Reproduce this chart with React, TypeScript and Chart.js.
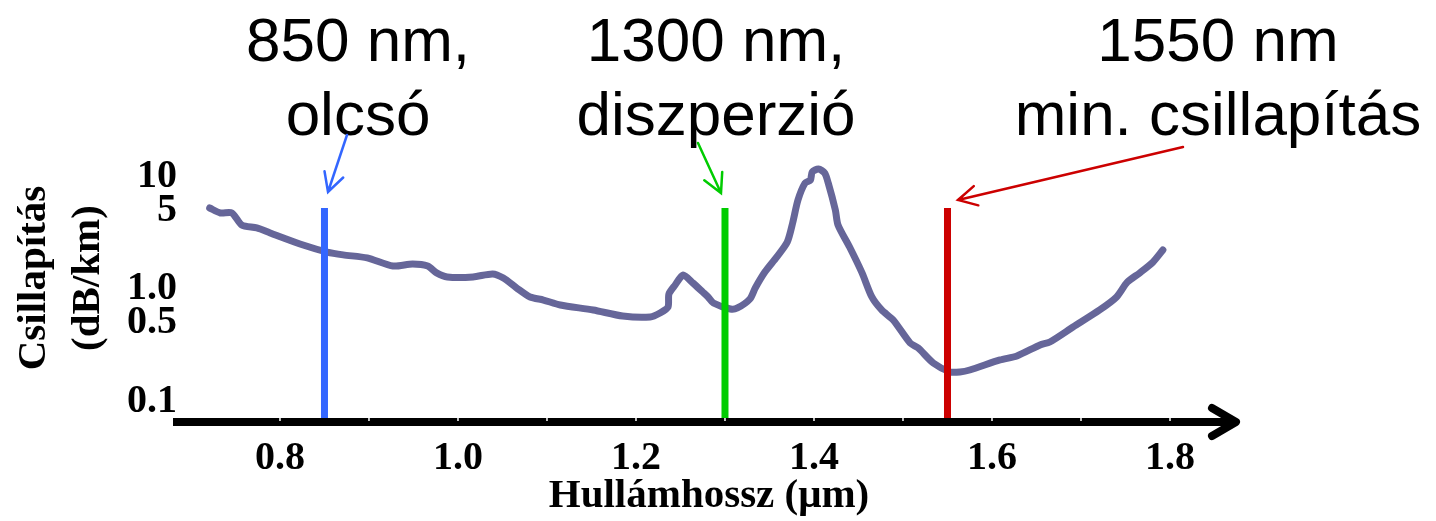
import { useEffect, useRef } from 'react';
import { Chart, registerables } from 'chart.js';

Chart.register(...registerables);

// ---- data ----
const wavelength = [
  0.721, 0.733, 0.746, 0.757, 0.774, 0.789, 0.826, 0.853, 0.871, 0.898,
  0.927, 0.949, 0.966, 0.976, 0.988, 1.017, 1.039, 1.051, 1.066, 1.081,
  1.096, 1.115, 1.152, 1.185, 1.216, 1.227, 1.236, 1.237, 1.244, 1.253,
  1.264, 1.275, 1.281, 1.287, 1.306, 1.314, 1.328, 1.334, 1.345, 1.358,
  1.370, 1.376, 1.382, 1.390, 1.396, 1.398, 1.405, 1.412, 1.416, 1.424,
  1.427, 1.440, 1.454, 1.465, 1.476, 1.489, 1.508, 1.517, 1.534, 1.553,
  1.564, 1.575, 1.609, 1.628, 1.654, 1.665, 1.691, 1.721, 1.740, 1.752,
  1.766, 1.781, 1.792,
];
const attenuation = [
  5.25, 4.74, 4.74, 3.71, 3.49, 3.15, 2.46, 2.13, 2.01, 1.89,
  1.60, 1.67, 1.60, 1.39, 1.28, 1.28, 1.36, 1.25, 1.02, 0.849,
  0.798, 0.72, 0.651, 0.575, 0.564, 0.612, 0.692, 0.903, 1.085, 1.33,
  1.13, 0.94, 0.849, 0.751, 0.664, 0.678, 0.815, 1.02, 1.42, 1.92,
  2.62, 3.86, 6.18, 8.75, 9.31, 10.96, 11.66, 10.74, 8.75, 5.04,
  3.71, 2.36, 1.39, 0.849, 0.651, 0.530, 0.331, 0.299, 0.220, 0.183,
  0.183, 0.1905, 0.234, 0.254, 0.318, 0.338, 0.459, 0.651, 0.849, 1.15,
  1.39, 1.74, 2.22,
];

const markerWavelengths = [0.85, 1.3, 1.55];
const markerTop = 5.25;
const markerColors = ['rgb(51,102,255)', 'rgb(0,204,0)', 'rgb(204,0,0)'];

const annotationTexts = [
  ['850 nm,', 'olcsó'],
  ['1300 nm,', 'diszperzió'],
  ['1550 nm', 'min. csillapítás'],
];

const xTickValues = [0.8, 0.9, 1.0, 1.1, 1.2, 1.3, 1.4, 1.5, 1.6, 1.7, 1.8];
const xTickLabels = ['0.8', '', '1.0', '', '1.2', '', '1.4', '', '1.6', '', '1.8'];
const yTickValues = [0.1, 0.5, 1, 5, 10];
const yTickLabels = ['0.1', '0.5', '1.0', '5', '10'];

const xMin = 0.6843;
const xMax = 1.8764;
const yMin = 0.0657;
const yMax = 17.2;

const xTitle = 'Hullámhossz (μm)';
const yTitleLines = ['Csillapítás', '(dB/km)'];

// ---- layout (pixels) ----
const W = 1436;
const H = 521;
const SERIF = "'Liberation Serif', 'Times New Roman', serif";
const SANS = "'Liberation Sans', Arial, sans-serif";
const annotationCenters = [358, 716, 1218];
const annotationBaselines = [61, 135];
const arrowPaths = [
  { from: [347, 135], to: [328, 192] },
  { from: [698, 143], to: [721, 193] },
  { from: [1183, 147], to: [958, 200] },
];

function drawArrow(ctx: CanvasRenderingContext2D, from: number[], to: number[], color: string) {
  ctx.save();
  ctx.strokeStyle = color;
  ctx.lineWidth = 2.5;
  ctx.lineCap = 'round';
  ctx.beginPath();
  ctx.moveTo(from[0], from[1]);
  ctx.lineTo(to[0], to[1]);
  const ang = Math.atan2(from[1] - to[1], from[0] - to[0]);
  const a = (28 * Math.PI) / 180;
  const len = 21;
  ctx.moveTo(to[0] + len * Math.cos(ang - a), to[1] + len * Math.sin(ang - a));
  ctx.lineTo(to[0], to[1]);
  ctx.lineTo(to[0] + len * Math.cos(ang + a), to[1] + len * Math.sin(ang + a));
  ctx.stroke();
  ctx.restore();
}

const decorPlugin = {
  id: 'decor',
  afterDatasetsDraw(chart: any) {
    const ctx: CanvasRenderingContext2D = chart.ctx;
    const xs = chart.scales.x;
    const area = chart.chartArea;
    const yAxis = area.bottom;
    // x axis line with arrow
    ctx.save();
    ctx.strokeStyle = '#000';
    ctx.lineWidth = 8;
    ctx.lineCap = 'butt';
    ctx.beginPath();
    ctx.moveTo(area.left - 4, yAxis);
    ctx.lineTo(area.right - 3, yAxis);
    ctx.stroke();
    ctx.lineCap = 'round';
    ctx.lineJoin = 'round';
    ctx.beginPath();
    ctx.moveTo(area.right - 26, yAxis - 14);
    ctx.lineTo(area.right - 2, yAxis);
    ctx.lineTo(area.right - 26, yAxis + 14);
    ctx.stroke();
    // white tick notches
    ctx.strokeStyle = '#fff';
    ctx.lineWidth = 1.5;
    ctx.lineCap = 'butt';
    for (const v of xTickValues) {
      const px = xs.getPixelForValue(v);
      ctx.beginPath();
      ctx.moveTo(px, yAxis - 4);
      ctx.lineTo(px, yAxis - 1);
      ctx.stroke();
    }
    ctx.restore();
  },
  afterDraw(chart: any) {
    const ctx: CanvasRenderingContext2D = chart.ctx;
    ctx.save();
    ctx.fillStyle = '#000';
    // annotations
    ctx.font = `62px ${SANS}`;
    ctx.textAlign = 'center';
    ctx.textBaseline = 'alphabetic';
    annotationTexts.forEach((lines, i) => {
      lines.forEach((t, j) => {
        ctx.fillText(t, annotationCenters[i], annotationBaselines[j]);
      });
    });
    arrowPaths.forEach((p, i) => drawArrow(ctx, p.from, p.to, markerColors[i]));
    // x title
    ctx.font = `bold 41px ${SERIF}`;
    ctx.fillText(xTitle, 709, 507);
    // y title
    const yBaselines = [45, 99];
    yTitleLines.forEach((t, i) => {
      ctx.save();
      ctx.translate(yBaselines[i], 278);
      ctx.rotate(-Math.PI / 2);
      ctx.fillText(t, 0, 0);
      ctx.restore();
    });
    ctx.restore();
  },
};

export default function App() {
  const ref = useRef<HTMLCanvasElement | null>(null);
  useEffect(() => {
    document.body.style.margin = '0';
    const canvas = ref.current;
    if (!canvas) return;
    const curve = wavelength.map((x, i) => ({ x, y: attenuation[i] }));
    const markerSets = markerWavelengths.map((x, i) => ({
      type: 'line' as const,
      data: [
        { x, y: markerTop },
        { x, y: yMin },
      ],
      borderColor: markerColors[i],
      borderWidth: 7,
      borderCapStyle: 'butt' as const,
      pointRadius: 0,
      order: 1,
    }));
    const chart = new Chart(canvas, {
      type: 'line',
      data: {
        datasets: [
          ...markerSets,
          {
            data: curve,
            borderColor: 'rgb(102,102,153)',
            borderWidth: 7,
            borderJoinStyle: 'round',
            borderCapStyle: 'round',
            pointRadius: 0,
            tension: 0.25,
            order: 2,
          },
        ] as any,
      },
      options: {
        animation: false,
        responsive: false,
        events: [],
        layout: { padding: { top: 150, right: W - 1238, bottom: 0, left: 0 } },
        plugins: { legend: { display: false }, tooltip: { enabled: false } },
        scales: {
          x: {
            type: 'linear',
            min: xMin,
            max: xMax,
            grid: { display: false, drawTicks: false },
            border: { display: false },
            afterBuildTicks: (s: any) => {
              s.ticks = xTickValues.map((value) => ({ value }));
            },
            afterFit: (s: any) => {
              s.height = H - 422;
            },
            ticks: {
              autoSkip: false,
              maxRotation: 0,
              padding: 13,
              color: '#000',
              font: { family: SERIF, size: 40, weight: 'bold' },
              callback: (_v: any, i: number) => xTickLabels[i],
            },
          },
          y: {
            type: 'logarithmic',
            min: yMin,
            max: yMax,
            grid: { display: false, drawTicks: false },
            border: { display: false },
            afterBuildTicks: (s: any) => {
              s.ticks = yTickValues.map((value) => ({ value }));
            },
            afterFit: (s: any) => {
              s.width = 177;
            },
            ticks: {
              autoSkip: false,
              padding: 0,
              color: '#000',
              font: { family: SERIF, size: 40, weight: 'bold' },
              callback: (_v: any, i: number) => yTickLabels[i],
            },
          },
        },
      },
      plugins: [decorPlugin],
    });
    return () => chart.destroy();
  }, []);
  return (
    <div style={{ position: 'absolute', left: 0, top: 0, width: W, height: H, background: '#fff' }}>
      <canvas ref={ref} width={W} height={H} style={{ display: 'block' }} />
    </div>
  );
}
